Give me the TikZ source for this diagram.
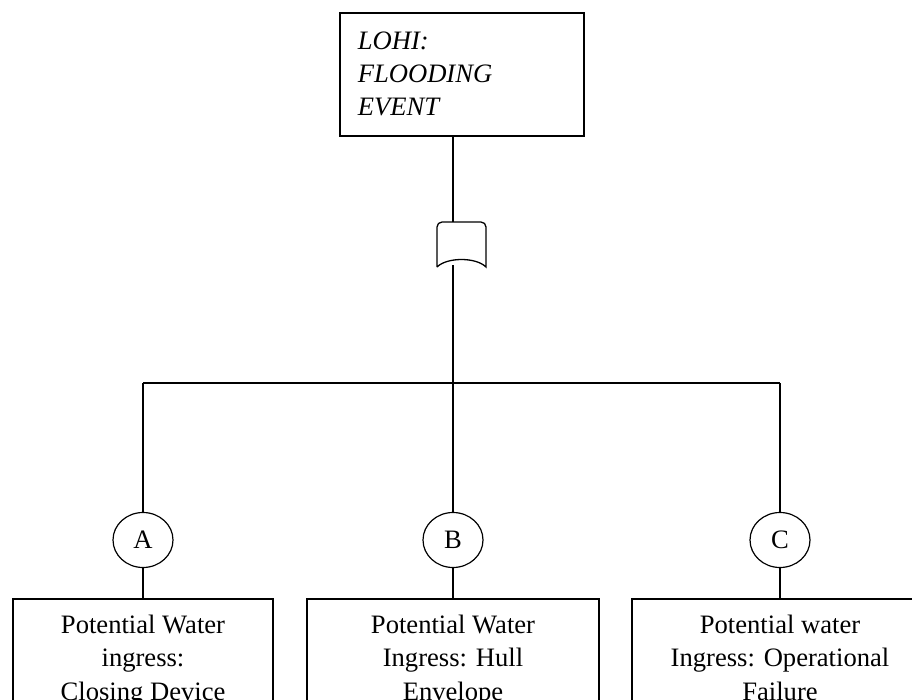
\documentclass[tikz,border=0pt]{standalone}
\usepackage{fontspec}
\setmainfont{Liberation Serif}
\usetikzlibrary{shapes.geometric}
\begin{document}
\begin{tikzpicture}[x=1pt,y=-1pt,
  line width=1.3pt,
  txt/.style={font=\fontsize{26.6}{33.5}\selectfont},
  topbox/.style={draw, line width=1.6pt, txt, font=\fontsize{26.6}{33}\selectfont\itshape,
    anchor=north west, minimum width=244pt, minimum height=123pt,
    text width=208pt, align=left, inner xsep=18pt, inner ysep=0pt},
  evbox/.style={draw, line width=1.6pt, txt, anchor=north, align=center,
    inner ysep=16pt, inner xsep=0pt, text depth=40pt},
  gatecirc/.style={draw, ellipse, line width=1.2pt, minimum width=60pt, minimum height=55pt,
    inner sep=0pt, txt}
]
\clip (0,0) rectangle (912,699);
\fill[white] (0,0) rectangle (912,699);

% top event
\node[topbox] (top) at (339,12) {LOHI:\\FLOODING\\EVENT};

% gate shape
\coordinate (gtop) at (453,222);
\coordinate (gbot) at (453,265);
\coordinate (junc) at (453,383);
\draw[line width=1.3pt] (437,267) -- (437,227) to[out=90,in=180] (442,222) -- (481,222)
  to[out=0,in=90] (486,227) -- (486,267)
  .. controls (476,257) and (447,257) .. (437,267);

\draw (top.south -| gtop) -- (gtop);
\draw (gbot) -- (junc);

% transfer circles
\node[gatecirc] (cA) at (143,540) {A};
\node[gatecirc] (cB) at (453,540) {B};
\node[gatecirc] (cC) at (780,540) {C};

\coordinate (jA) at (143,383);
\coordinate (jC) at (780,383);
\draw (jA) -- (jC);
\draw (jA) -- (cA.north);
\draw (junc) -- (cB.north);
\draw (jC) -- (cC.north);

% bottom events
\node[evbox, minimum width=260pt] (bA) at (143,598) {Potential Water\\ingress:\\Closing Device};
\node[evbox, minimum width=292pt] (bB) at (453,598) {Potential Water\\Ingress: Hull\\Envelope};
\node[evbox, minimum width=296pt] (bC) at (780,598) {Potential water\\Ingress: Operational\\Failure};

\draw (cA.south) -- (bA.north);
\draw (cB.south) -- (bB.north);
\draw (cC.south) -- (bC.north);
\end{tikzpicture}
\end{document}
